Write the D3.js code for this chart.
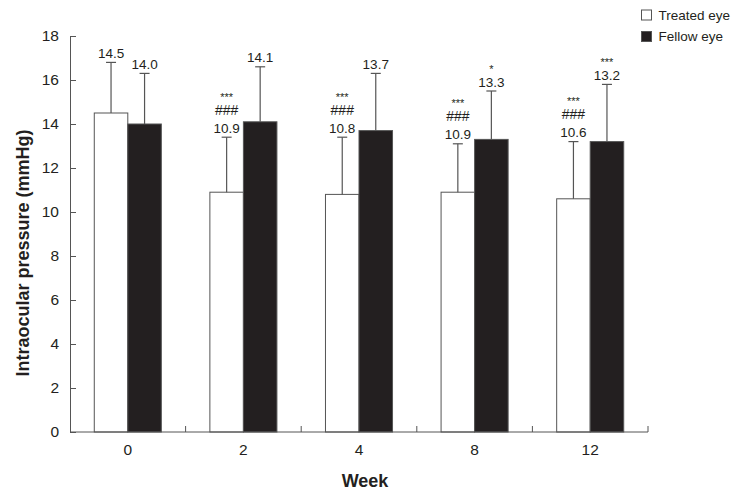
<!DOCTYPE html>
<html>
<head>
<meta charset="utf-8">
<script src="https://cdn.jsdelivr.net/npm/d3@7"></script>
<style>
  html, body { margin: 0; padding: 0; background: #fff; }
  svg { display: block; font-family: "Liberation Sans", Arial, sans-serif; }
</style>
</head>
<body>
<svg id="chart" width="740" height="497"></svg>
<script>
// ---- data ----
const weeks = ["0", "2", "4", "8", "12"];
const seriesNames = ["Treated eye", "Fellow eye"];
const treatedMean = [14.5, 10.9, 10.8, 10.9, 10.6];
const fellowMean = [14.0, 14.1, 13.7, 13.3, 13.2];
const treatedSD = [2.3, 2.5, 2.6, 2.2, 2.6];
const fellowSD = [2.3, 2.5, 2.6, 2.2, 2.6];
const treatedLabels = ["14.5", "10.9", "10.8", "10.9", "10.6"];
const fellowLabels = ["14.0", "14.1", "13.7", "13.3", "13.2"];
const treatedStars = ["", "***", "***", "***", "***"];
const treatedHash = ["", "###", "###", "###", "###"];
const fellowStars = ["", "", "", "*", "***"];
const yTicks = [0, 2, 4, 6, 8, 10, 12, 14, 16, 18];

// ---- layout ----
const svg = d3.select("#chart");
const plotLeft = 70, plotRight = 648, plotTop = 36, plotBottom = 432;
const axisColor = "#555";
const textColor = "#231f20";
const fills = ["#ffffff", "#231f20"];

const x0 = d3.scaleBand().domain(weeks).range([plotLeft, plotRight]).padding(0);
const groupW = x0.bandwidth() * 0.58;
const x1 = d3.scaleBand().domain(seriesNames).range([0, groupW]).padding(0);
const y = d3.scaleLinear().domain([0, 18]).range([plotBottom, plotTop]);

const rows = weeks.map((w, i) => ({
  week: w,
  vals: [
    { s: seriesNames[0], mean: treatedMean[i], sd: treatedSD[i], label: treatedLabels[i], extra: [treatedHash[i], treatedStars[i]] },
    { s: seriesNames[1], mean: fellowMean[i], sd: fellowSD[i], label: fellowLabels[i], extra: [fellowStars[i]] }
  ]
}));

// ---- bars ----
const g = svg.append("g");
const groups = g.selectAll("g.grp").data(rows).join("g")
  .attr("transform", d => `translate(${x0(d.week) + (x0.bandwidth() - groupW) / 2},0)`);

groups.selectAll("rect").data(d => d.vals).join("rect")
  .attr("x", d => x1(d.s))
  .attr("y", d => y(d.mean))
  .attr("width", x1.bandwidth())
  .attr("height", d => y(0) - y(d.mean))
  .attr("fill", (d, i) => fills[i])
  .attr("stroke", axisColor)
  .attr("stroke-width", 1);

// error bars (upper only)
const cx = d => x1(d.s) + x1.bandwidth() / 2;
groups.selectAll("line.err").data(d => d.vals).join("line")
  .attr("class", "err")
  .attr("x1", cx).attr("x2", cx)
  .attr("y1", d => y(d.mean)).attr("y2", d => y(d.mean + d.sd))
  .attr("stroke", axisColor).attr("stroke-width", 1.2);
groups.selectAll("line.cap").data(d => d.vals).join("line")
  .attr("class", "cap")
  .attr("x1", d => cx(d) - 5).attr("x2", d => cx(d) + 5)
  .attr("y1", d => y(d.mean + d.sd)).attr("y2", d => y(d.mean + d.sd))
  .attr("stroke", axisColor).attr("stroke-width", 1.2);

// value labels
groups.selectAll("text.val").data(d => d.vals).join("text")
  .attr("class", "val")
  .attr("x", cx)
  .attr("y", d => y(d.mean + d.sd) - 4.5)
  .attr("text-anchor", "middle")
  .attr("font-size", 13.5)
  .attr("fill", textColor)
  .text(d => d.label);

// significance marks
groups.each(function(d) {
  const gg = d3.select(this);
  d.vals.forEach(v => {
    let base = y(v.mean + v.sd) - 4.5;
    v.extra.forEach(mark => {
      if (!mark) return;
      if (mark[0] === "#") {
        base -= 18;
        gg.append("text").attr("x", cx(v)).attr("y", base)
          .attr("text-anchor", "middle").attr("font-size", 14).attr("fill", textColor)
          .text(mark);
      } else {
        base -= 16;
        gg.append("text").attr("x", cx(v)).attr("y", base + 2)
          .attr("text-anchor", "middle").attr("font-size", 11).attr("fill", textColor)
          .text(mark);
      }
    });
  });
});

// ---- axes ----
const yAxis = d3.axisLeft(y).tickValues(yTicks).tickSizeInner(-6).tickSizeOuter(0).tickPadding(11);
const ya = svg.append("g").attr("transform", `translate(${plotLeft},0)`).call(yAxis);
ya.select(".domain").attr("stroke", axisColor);
ya.selectAll(".tick line").attr("stroke", axisColor);
ya.selectAll(".tick text").attr("font-size", 15.5).attr("fill", textColor)
  .attr("font-family", "Liberation Sans, Arial, sans-serif");

// x axis: line + boundary ticks pointing up, labels at band centres
const xa = svg.append("g");
xa.append("line").attr("x1", plotLeft).attr("x2", plotRight).attr("y1", plotBottom).attr("y2", plotBottom)
  .attr("stroke", axisColor);
const bounds = weeks.slice(1).map(w => x0(w)).concat([plotRight]);
xa.selectAll("line.bt").data(bounds).join("line").attr("class", "bt")
  .attr("x1", d => d).attr("x2", d => d).attr("y1", plotBottom).attr("y2", plotBottom - 6)
  .attr("stroke", axisColor);
xa.selectAll("text").data(weeks).join("text")
  .attr("x", d => x0(d) + x0.bandwidth() / 2)
  .attr("y", 455)
  .attr("text-anchor", "middle")
  .attr("font-size", 15.5)
  .attr("fill", textColor)
  .text(d => d);

// axis titles
svg.append("text")
  .attr("x", 365).attr("y", 487)
  .attr("text-anchor", "middle").attr("font-size", 18).attr("font-weight", "bold")
  .attr("fill", textColor)
  .text("Week");
svg.append("text")
  .attr("transform", "translate(29,253) rotate(-90)")
  .attr("text-anchor", "middle").attr("font-size", 18).attr("font-weight", "bold")
  .attr("fill", textColor)
  .text("Intraocular pressure (mmHg)");

// ---- legend ----
const lg = svg.append("g").attr("transform", "translate(641.5,10)");
seriesNames.forEach((s, i) => {
  lg.append("rect").attr("x", 0).attr("y", i * 21.5).attr("width", 10).attr("height", 10)
    .attr("fill", fills[i]).attr("stroke", axisColor);
  lg.append("text").attr("x", 17).attr("y", i * 21.5 + 9.5)
    .attr("font-size", 13.5).attr("fill", textColor).text(s);
});
</script>
</body>
</html>
